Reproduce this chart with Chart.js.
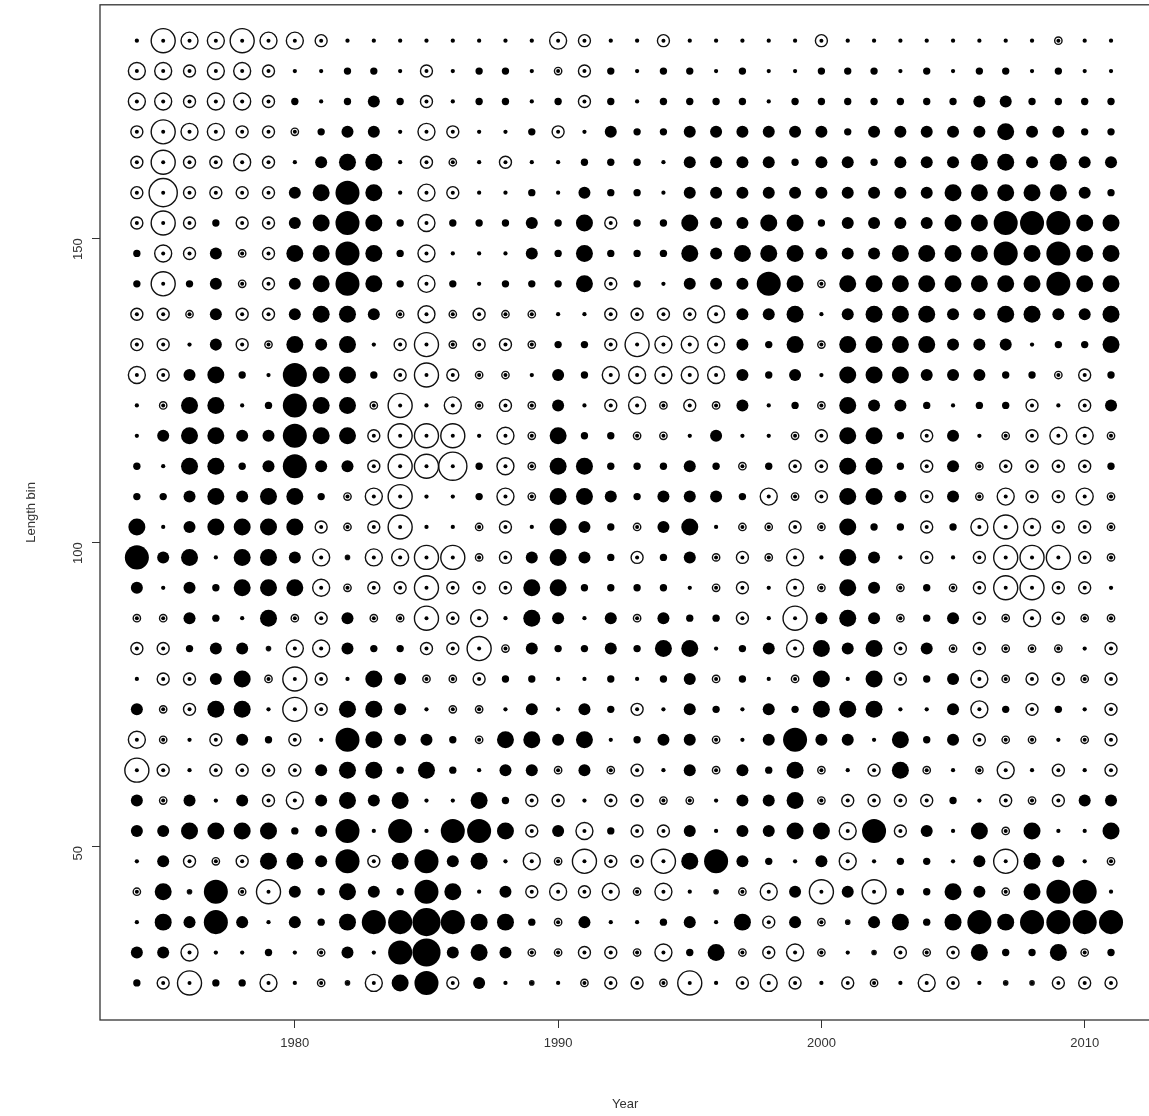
<!DOCTYPE html>
<html><head><meta charset="utf-8">
<script src="https://cdn.jsdelivr.net/npm/chart.js@4/dist/chart.umd.min.js"></script>
<style>html,body{margin:0;padding:0;background:#fff;overflow:hidden;width:1149px;height:1116px}#w{width:1166px;height:1133px;margin-top:-17px}</style>
</head><body><div id="w"><canvas id="c"></canvas></div>
<script>
const years = [];
for (let y = 1974; y <= 2011; y++) years.push(y);
const lengthBins = [27.5,32.5,37.5,42.5,47.5,52.5,57.5,62.5,67.5,72.5,77.5,82.5,87.5,92.5,97.5,102.5,107.5,112.5,117.5,122.5,127.5,132.5,137.5,142.5,147.5,152.5,157.5,162.5,167.5,172.5,177.5,182.5];
const xTicks = [1980,1990,2000,2010];
const yTicks = [50,100,150];
const t=0.05,s=0.15,m=0.4,L=0.8,X=1.6,H=2.2;
// residuals per length bin (rows), one value per year 1974..2011; positive filled, negative open
const r27 = [s,-m,-X,s,s,-L,t,-s,-t,-L,L,X,-m,m,t,-t,t,-s,-m,-m,-s,-X,t,-m,-L,-m,t,-m,-s,t,-L,-m,t,-t,-t,-m,-m,-m];
const r32 = [m,m,-L,t,t,s,t,-s,m,t,X,H,m,L,m,-s,-s,-m,-m,-s,-L,s,L,-s,-m,-L,-s,t,-t,-m,-s,-m,L,s,s,L,-s,s];
const r37 = [t,L,m,X,m,t,m,s,L,X,X,H,X,L,L,s,-s,m,t,t,s,m,t,L,-m,m,-s,-t,m,L,s,L,X,L,X,X,X,X];
const r42 = [-s,L,-t,X,-s,-X,m,s,L,m,s,X,L,t,m,-m,-L,-m,-L,-s,-L,t,-t,-s,-L,m,-X,m,-X,s,s,L,m,-s,L,X,X,t];
const r47 = [t,m,-m,-s,-m,L,L,m,X,-m,L,X,m,L,t,-L,-s,-X,-m,-m,-X,L,X,m,s,t,m,-L,t,s,s,t,m,-X,L,m,t,-s];
const r52 = [m,m,L,L,L,L,s,m,X,t,X,t,X,X,L,-m,m,-L,s,-m,-m,m,t,m,m,L,L,-L,X,-m,m,t,L,-s,L,t,t,L];
const r57 = [m,-s,m,t,m,-m,-L,m,L,m,L,t,t,L,s,-m,-m,t,-m,-m,-s,-s,t,m,m,L,-s,-m,-m,-m,-m,s,t,-m,-s,-m,m,m];
const r62 = [-X,-m,t,-m,-m,-m,-m,m,L,L,s,L,s,t,m,m,-s,m,-s,-m,t,m,-s,m,s,L,-s,t,-m,L,-s,t,-s,-L,t,-m,t,-m];
const r67 = [-L,-s,t,-m,m,s,-m,t,X,L,m,m,s,-s,L,L,m,L,t,s,m,m,-s,t,m,X,m,m,t,L,s,m,-m,-s,-s,t,-s,-m];
const r72 = [m,-s,-m,L,L,t,-X,-m,L,L,m,t,-s,-s,t,m,t,m,s,-m,t,m,s,t,m,s,L,L,L,t,t,m,-L,s,-m,s,t,-m];
const r77 = [t,-m,-m,m,L,-s,-X,-m,t,L,m,-s,-s,-m,s,s,t,t,s,t,s,m,-s,s,t,-s,L,t,L,-m,s,m,-L,-s,-m,-m,-s,-m];
const r82 = [-m,-m,s,m,m,-t,-L,-L,m,s,s,-m,-m,-X,-s,m,s,s,m,s,L,L,t,s,m,-L,L,m,L,-m,m,-s,-m,-s,-s,-s,t,-m];
const r87 = [-s,-s,m,s,t,L,-s,-m,m,-s,-s,-X,-m,-L,t,L,m,t,m,-s,m,s,s,-m,t,-X,m,L,m,-s,s,m,-m,-s,-L,-m,-s,-s];
const r92 = [m,t,m,s,L,L,L,-L,-s,-m,-m,-X,-m,-m,-m,L,L,s,s,s,s,t,-s,-m,t,-L,-s,L,m,-s,s,-s,-m,-X,-X,-m,-m,t];
const r97 = [X,m,L,t,L,L,m,-L,-t,-L,-L,-X,-X,-s,-m,m,L,m,s,-m,s,m,-s,-m,-s,-L,t,L,m,t,-m,t,-m,-X,-X,-X,-m,-s];
const r102 = [L,t,m,L,L,L,L,-m,-s,-m,-X,t,t,-s,-m,t,L,m,s,-s,m,L,t,-s,-s,-m,-s,L,s,s,-m,s,-L,-X,-L,-m,-m,-s];
const r107 = [s,s,m,L,m,L,L,s,-s,-L,-X,t,t,s,-L,-s,L,L,m,s,m,m,m,s,-L,-s,-m,L,L,m,-m,m,-s,-L,-m,-m,-L,-s];
const r112 = [s,t,L,L,s,m,X,m,m,-m,-X,-X,-H,s,-L,-s,L,L,s,s,s,m,s,-s,s,-m,-m,L,L,s,-m,m,-s,-m,-m,-m,-m,s];
const r117 = [t,m,L,L,m,m,X,L,L,-m,-X,-X,-X,t,-L,-s,L,s,s,-s,-s,t,m,t,t,-s,-m,L,L,s,-m,m,t,-s,-m,-L,-L,-s];
const r122 = [t,-s,L,L,t,s,X,L,L,-s,-X,t,-L,-s,-m,-s,m,t,-m,-L,-s,-m,-s,m,t,s,-s,L,m,m,s,t,s,s,-m,t,-m,m];
const r127 = [-L,-m,m,L,s,t,X,L,L,s,-m,-X,-m,-s,-s,t,m,s,-L,-L,-L,-L,-L,m,s,m,t,L,L,L,m,m,m,s,s,-s,-m,s];
const r132 = [-m,-m,t,m,-m,-s,L,m,L,t,-m,-X,-s,-m,-m,-s,s,s,-m,-X,-L,-L,-L,m,s,L,-s,L,L,L,L,m,m,m,t,s,s,L];
const r137 = [-m,-m,-s,m,-m,-m,m,L,L,m,-s,-L,-s,-m,-s,-s,t,t,-m,-m,-m,-m,-L,m,m,L,t,m,L,L,L,m,m,L,L,m,m,L];
const r142 = [s,-X,s,m,-s,-m,m,L,X,L,s,-L,s,t,s,s,s,L,-m,s,t,m,m,m,X,L,-s,L,L,L,L,L,L,L,L,X,L,L];
const r147 = [s,-L,-m,m,-s,-m,L,L,X,L,s,-L,t,t,t,m,s,L,s,s,s,L,m,L,L,L,m,m,m,L,L,L,L,X,L,X,L,L];
const r152 = [-m,-X,-m,s,-m,-m,m,L,X,L,s,-L,s,s,s,m,s,L,-m,s,s,L,m,m,L,L,s,m,m,m,m,L,L,X,X,X,L,L];
const r157 = [-m,-H,-m,-m,-m,-m,m,L,X,L,t,-L,-m,t,t,s,t,m,s,s,t,m,m,m,m,m,m,m,m,m,m,L,L,L,L,L,m,s];
const r162 = [-m,-X,-m,-m,-L,-m,t,m,L,L,t,-m,-s,t,-m,t,t,s,s,s,t,m,m,m,m,s,m,m,s,m,m,m,L,L,m,L,m,m];
const r167 = [-m,-X,-L,-L,-m,-m,-s,s,m,m,t,-L,-m,t,t,s,-m,t,m,s,s,m,m,m,m,m,m,s,m,m,m,m,m,L,m,m,s,s];
const r172 = [-L,-L,-m,-L,-L,-m,s,t,s,m,s,-m,t,s,s,t,s,-m,s,t,s,s,s,s,t,s,s,s,s,s,s,s,m,m,s,s,s,s];
const r177 = [-L,-L,-m,-L,-L,-m,t,t,s,s,t,-m,t,s,s,t,-s,-m,s,t,s,s,t,s,t,t,s,s,s,t,s,t,s,s,t,s,t,t];
const r182 = [t,-X,-L,-L,-X,-L,-L,-m,t,t,t,t,t,t,t,t,-L,-m,t,t,-m,t,t,t,t,t,-m,t,t,t,t,t,t,t,t,-s,t,t];
const residualRows = [r27,r32,r37,r42,r47,r52,r57,r62,r67,r72,r77,r82,r87,r92,r97,r102,r107,r112,r117,r122,r127,r132,r137,r142,r147,r152,r157,r162,r167,r172,r177,r182];

const pos=[],neg=[],ctr=[];
residualRows.forEach((row,i)=>row.forEach((v,j)=>{
  const p={x:years[j],y:lengthBins[i],r:9.5*Math.sqrt(Math.abs(v))};
  if(v>=0) pos.push(p); else {neg.push(p); ctr.push({x:years[j],y:lengthBins[i],r:2});}
}));

const box={id:'box',afterDraw(c){const a=c.chartArea,g=c.ctx;g.save();g.strokeStyle='#333';g.lineWidth=1.3;g.strokeRect(a.left,a.top,a.right-a.left,a.bottom-a.top);g.restore();}};
const font={family:'Liberation Sans, Arial, sans-serif',size:13};
new Chart(document.getElementById('c'),{
  type:'bubble',
  data:{datasets:[
    {data:pos,backgroundColor:'#000',borderColor:'#000',borderWidth:0},
    {data:neg,backgroundColor:'rgba(255,255,255,0)',borderColor:'#111',borderWidth:1.4},
    {data:ctr,backgroundColor:'#000',borderColor:'#000',borderWidth:0}
  ]},
  options:{responsive:true,maintainAspectRatio:false,animation:false,
    layout:{padding:{top:5,right:1,left:0,bottom:0}},
    plugins:{legend:{display:false},tooltip:{enabled:false}},
    elements:{point:{hoverRadius:0}},
    scales:{
      x:{type:'linear',min:1972.6,max:2012.5,
        afterBuildTicks(ax){ax.ticks=xTicks.map(v=>({value:v}));},
        afterFit(ax){ax.height=96;},
        grid:{drawOnChartArea:false,drawTicks:true,tickLength:8,color:'#333'},
        border:{display:false},
        ticks:{color:'#333',font,padding:8,maxRotation:0,callback:v=>String(v)},
        title:{display:true,text:'Year',color:'#333',font,padding:{top:22}}},
      y:{type:'linear',min:21.4,max:188.4,
        afterBuildTicks(ax){ax.ticks=yTicks.map(v=>({value:v}));},
        afterFit(ax){ax.width=100;},
        grid:{drawOnChartArea:false,drawTicks:true,tickLength:8,color:'#333'},
        border:{display:false},
        ticks:{color:'#333',font,padding:14,minRotation:90,maxRotation:90,callback:v=>String(v)},
        title:{display:true,text:'Length bin',color:'#333',font,padding:{top:24,bottom:0}}}
    }},
  plugins:[box]
});
</script></body></html>
